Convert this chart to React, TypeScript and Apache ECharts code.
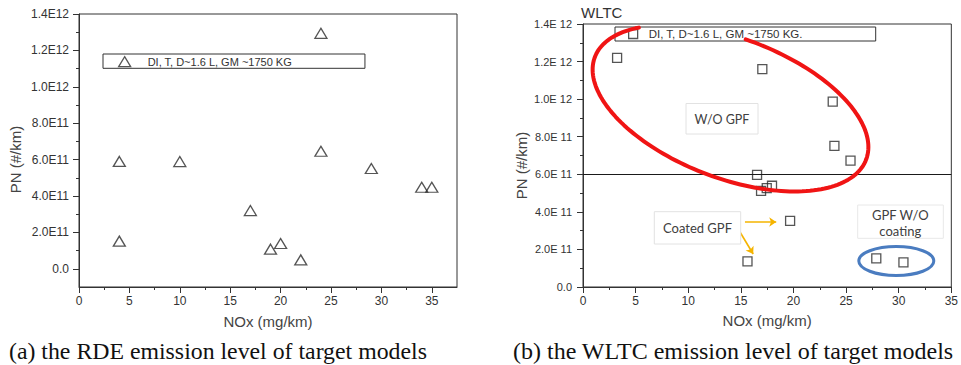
import React, { useEffect, useRef } from "react";
import * as echarts from "echarts";

// ---------- data ----------
const rdeNox = [4, 4, 10, 17, 19, 20, 22, 24, 24, 29, 34, 35];
const rdePn = [5.9e11, 1.52e11, 5.89e11, 3.2e11, 1.08e11, 1.39e11, 0.49e11, 1.294e12, 6.46e11, 5.51e11, 4.48e11, 4.48e11];

const wltcNox = [3.24, 17.04, 23.73, 23.89, 25.42, 16.54, 16.92, 17.46, 17.96, 19.68, 15.63, 27.87, 30.45];
const wltcPn = [1.22e12, 1.16e12, 9.87e11, 7.51e11, 6.73e11, 5.97e11, 5.12e11, 5.26e11, 5.39e11, 3.52e11, 1.36e11, 1.52e11, 1.31e11];

const rdeLegend = "DI, T, D~1.6 L, GM ~1750 KG";
const wltcLegend = "DI, T, D~1.6 L, GM ~1750 KG.";
const pnLimit = 6e11;

const rdeXMajor = [0, 5, 10, 15, 20, 25, 30, 35];
const rdeXMinor = [2.5, 7.5, 12.5, 17.5, 22.5, 27.5, 32.5];
const rdeYMajor = [0, 2e11, 4e11, 6e11, 8e11, 1e12, 1.2e12, 1.4e12];
const rdeYMinor = [1e11, 3e11, 5e11, 7e11, 9e11, 1.1e12, 1.3e12];

// arrows (data coordinates of the WLTC panel): from -> to
const arrowFrom = [[15.39, 3.46e11], [14.69, 3.14e11]];
const arrowTo = [[18.36, 3.46e11], [16.17, 1.755e11]];

const captionA = "(a) the RDE emission level of target models";
const captionB = "(b) the WLTC emission level of target models";

// ---------- helpers ----------
const FONT = "'Liberation Sans', Arial, sans-serif";
const SERIF = "'Liberation Serif', 'Times New Roman', serif";
const ANNO = "Lato, 'Noto Sans', sans-serif";
const AX = "#333";

function sci(v: number, sep: string) {
  if (Math.abs(v) < 1) return "0.0";
  const e = Math.floor(Math.log10(Math.abs(v)) + 1e-9);
  const m = v / Math.pow(10, e);
  return m.toFixed(1) + "E" + sep + e;
}

function ellipseArc(cx: number, cy: number, a: number, b: number, rotDeg: number, t0: number, t1: number, n: number) {
  const r = (rotDeg * Math.PI) / 180;
  const c = Math.cos(r), s = Math.sin(r);
  const pts: number[][] = [];
  for (let i = 0; i <= n; i++) {
    const t = ((t0 + ((t1 - t0) * i) / n) * Math.PI) / 180;
    const u = a * Math.cos(t), v = b * Math.sin(t);
    pts.push([cx + u * c - v * s, cy + u * s + v * c]);
  }
  return pts;
}

const orange = "#f5b400";

function buildOption() {
  const markerStyle = { color: "rgba(0,0,0,0)", borderColor: "#2a2a2a", borderWidth: 1.3 };
  const arrowLines = arrowFrom.map((f, i) => [
    { coord: f, symbol: "none", lineStyle: { color: orange, width: 1.6, type: "solid" } },
    { coord: arrowTo[i], symbol: "arrow", symbolSize: 7, lineStyle: { color: orange, width: 1.6, type: "solid" } },
  ]);

  return {
    animation: false,
    textStyle: { fontFamily: FONT },
    grid: [
      { left: 79, top: 14, width: 378, height: 273, show: true, borderColor: AX, borderWidth: 1, backgroundColor: "transparent" },
      { left: 583, top: 24, width: 372, height: 263, show: true, borderColor: AX, borderWidth: 1, backgroundColor: "transparent" },
    ],
    xAxis: [
      {
        gridIndex: 0, type: "value", min: 0, max: 37.5, position: "bottom",
        name: "NOx (mg/km)", nameLocation: "middle", nameGap: 27,
        nameTextStyle: { fontSize: 15, color: "#444" },
        axisLine: { show: true, onZero: false, lineStyle: { color: AX, width: 1 } },
        axisTick: { show: true, customValues: rdeXMajor, length: 6, lineStyle: { color: AX } },
        axisLabel: { customValues: rdeXMajor, margin: 8, fontSize: 12, color: "#333" },
        splitLine: { show: false },
      },
      {
        gridIndex: 0, type: "value", min: 0, max: 37.5, position: "bottom",
        axisLine: { show: false, onZero: false },
        axisTick: { show: true, customValues: rdeXMinor, length: 3, lineStyle: { color: AX } },
        axisLabel: { show: false },
        splitLine: { show: false },
      },
      {
        gridIndex: 1, type: "value", min: 0, max: 35, interval: 5, position: "bottom",
        name: "NOx (mg/km)", nameLocation: "middle", nameGap: 26,
        nameTextStyle: { fontSize: 15, color: "#444" },
        axisLine: { show: true, onZero: false, lineStyle: { color: AX, width: 1 } },
        axisTick: { show: true, length: 6, lineStyle: { color: AX } },
        minorTick: { show: true, splitNumber: 2, length: 3, lineStyle: { color: AX } },
        axisLabel: { margin: 8, fontSize: 12, color: "#333", showMaxLabel: true },
        splitLine: { show: false },
        minorSplitLine: { show: false },
      },
    ],
    yAxis: [
      {
        gridIndex: 0, type: "value", min: -1e11, max: 1.4e12, position: "left",
        name: "PN (#/km)", nameLocation: "middle", nameGap: 56,
        nameTextStyle: { fontSize: 15, color: "#444", padding: [0, 18, 0, 0] },
        axisLine: { show: true, onZero: false, lineStyle: { color: AX, width: 1 } },
        axisTick: { show: true, customValues: rdeYMajor, length: 6, lineStyle: { color: AX } },
        axisLabel: { customValues: rdeYMajor, margin: 10, fontSize: 12, color: "#333", formatter: (v: number) => sci(v, "") },
        splitLine: { show: false },
      },
      {
        gridIndex: 0, type: "value", min: -1e11, max: 1.4e12, position: "left",
        axisLine: { show: false, onZero: false },
        axisTick: { show: true, customValues: rdeYMinor, length: 3, lineStyle: { color: AX } },
        axisLabel: { show: false },
        splitLine: { show: false },
      },
      {
        gridIndex: 1, type: "value", min: 0, max: 1.4e12, interval: 2e11, position: "left",
        name: "PN (#/km)", nameLocation: "middle", nameGap: 54,
        nameTextStyle: { fontSize: 15, color: "#444", padding: [0, 20, 0, 0] },
        axisLine: { show: true, onZero: false, lineStyle: { color: AX, width: 1 } },
        axisTick: { show: true, length: 6, lineStyle: { color: AX } },
        minorTick: { show: true, splitNumber: 2, length: 3, lineStyle: { color: AX } },
        axisLabel: { margin: 11, fontSize: 11, color: "#333", formatter: (v: number) => sci(v, " ") },
        splitLine: { show: false },
        minorSplitLine: { show: false },
      },
    ],
    legend: [
      {
        data: [{ name: rdeLegend, icon: "triangle" }],
        left: 103, top: 54, orient: "horizontal",
        padding: [2, 73, 1, 15], itemWidth: 12, itemHeight: 10,
        borderColor: AX, borderWidth: 1, backgroundColor: "#fff",
        itemStyle: { color: "rgba(0,0,0,0)", borderColor: "#2a2a2a", borderWidth: 1.3 },
        textStyle: { fontSize: 11, color: "#333", padding: [0, 0, 0, 12] },
        selectedMode: false,
      },
      {
        data: [{ name: wltcLegend, icon: "rect" }],
        left: 615, top: 27, orient: "horizontal",
        padding: [1, 73, 1, 13], itemWidth: 9, itemHeight: 9,
        borderColor: AX, borderWidth: 1, backgroundColor: "#fff",
        itemStyle: { color: "rgba(0,0,0,0)", borderColor: "#2a2a2a", borderWidth: 1.3 },
        textStyle: { fontSize: 11.5, color: "#333", padding: [0, 0, 0, 6] },
        selectedMode: false,
      },
    ],
    series: [
      {
        name: rdeLegend, type: "scatter", xAxisIndex: 0, yAxisIndex: 0,
        symbol: "triangle", symbolSize: [12, 10],
        itemStyle: markerStyle, silent: true,
        data: rdeNox.map((x, i) => [x, rdePn[i]]),
      },
      {
        name: wltcLegend, type: "scatter", xAxisIndex: 2, yAxisIndex: 2,
        symbol: "rect", symbolSize: 9,
        itemStyle: markerStyle, silent: true,
        data: wltcNox.map((x, i) => [x, wltcPn[i]]),
        markLine: {
          silent: true, symbol: ["none", "none"], label: { show: false },
          lineStyle: { color: "#1a1a1a", width: 1.2, type: "solid" },
          data: [[{ coord: [0, pnLimit], symbol: "none" }, { coord: [35, pnLimit], symbol: "none" }], ...arrowLines],
        },
      },
    ],
    graphic: [
      // annotation boxes
      { type: "rect", z: 20, shape: { x: 686, y: 103.5, width: 72, height: 30.5 }, style: { fill: "#fff", stroke: "#e2e2e2", lineWidth: 1 } },
      { type: "text", z: 21, x: 722, y: 119, style: { text: "W/O GPF", font: `12.5px ${ANNO}`, fill: "#404040", align: "center", verticalAlign: "middle" } },
      { type: "rect", z: 20, shape: { x: 654.3, y: 211.7, width: 86.4, height: 32.3 }, style: { fill: "#fff", stroke: "#e2e2e2", lineWidth: 1 } },
      { type: "text", z: 21, x: 697.5, y: 228, style: { text: "Coated GPF", font: `13px ${ANNO}`, fill: "#404040", align: "center", verticalAlign: "middle" } },
      { type: "rect", z: 20, shape: { x: 857.7, y: 205, width: 85.6, height: 33.3 }, style: { fill: "#fff", stroke: "#e8e8e8", lineWidth: 1 } },
      { type: "text", z: 21, x: 900.3, y: 223, style: { text: "GPF W/O\ncoating", font: `13px ${ANNO}`, lineHeight: 16, fill: "#404040", align: "center", verticalAlign: "middle" } },
      // red hand-drawn ellipse
      { type: "polyline", z: 30, shape: { points: ellipseArc(730.5, 108.3, 145, 70, 20.7, 218, -94, 160) }, style: { stroke: "#f01414", lineWidth: 4, fill: null, lineCap: "round", lineJoin: "round" } },
      // blue ellipse
      { type: "ellipse", z: 30, shape: { cx: 896.3, cy: 261, rx: 37.5, ry: 14.5 }, style: { stroke: "#4a7cc0", lineWidth: 3, fill: null } },
      // panel title
      { type: "text", z: 21, x: 581, y: 12, style: { text: "WLTC", font: `15px ${FONT}`, fill: "#333", align: "left", verticalAlign: "middle" } },
      // captions
      { type: "text", z: 21, x: 9, y: 351, style: { text: captionA, font: `23.8px ${SERIF}`, fill: "#111", align: "left", verticalAlign: "middle" } },
      { type: "text", z: 21, x: 513, y: 351, style: { text: captionB, font: `24px ${SERIF}`, fill: "#111", align: "left", verticalAlign: "middle" } },
    ],
  };
}

export default function App() {
  const ref = useRef<HTMLDivElement>(null);
  useEffect(() => {
    if (!ref.current) return;
    const chart = echarts.init(ref.current, null, { renderer: "svg" });
    chart.setOption(buildOption() as any);
    return () => chart.dispose();
  }, []);
  return (
    <div
      ref={ref}
      style={{ position: "absolute", left: 0, top: 0, width: 961, height: 365, background: "#fff" }}
    />
  );
}
